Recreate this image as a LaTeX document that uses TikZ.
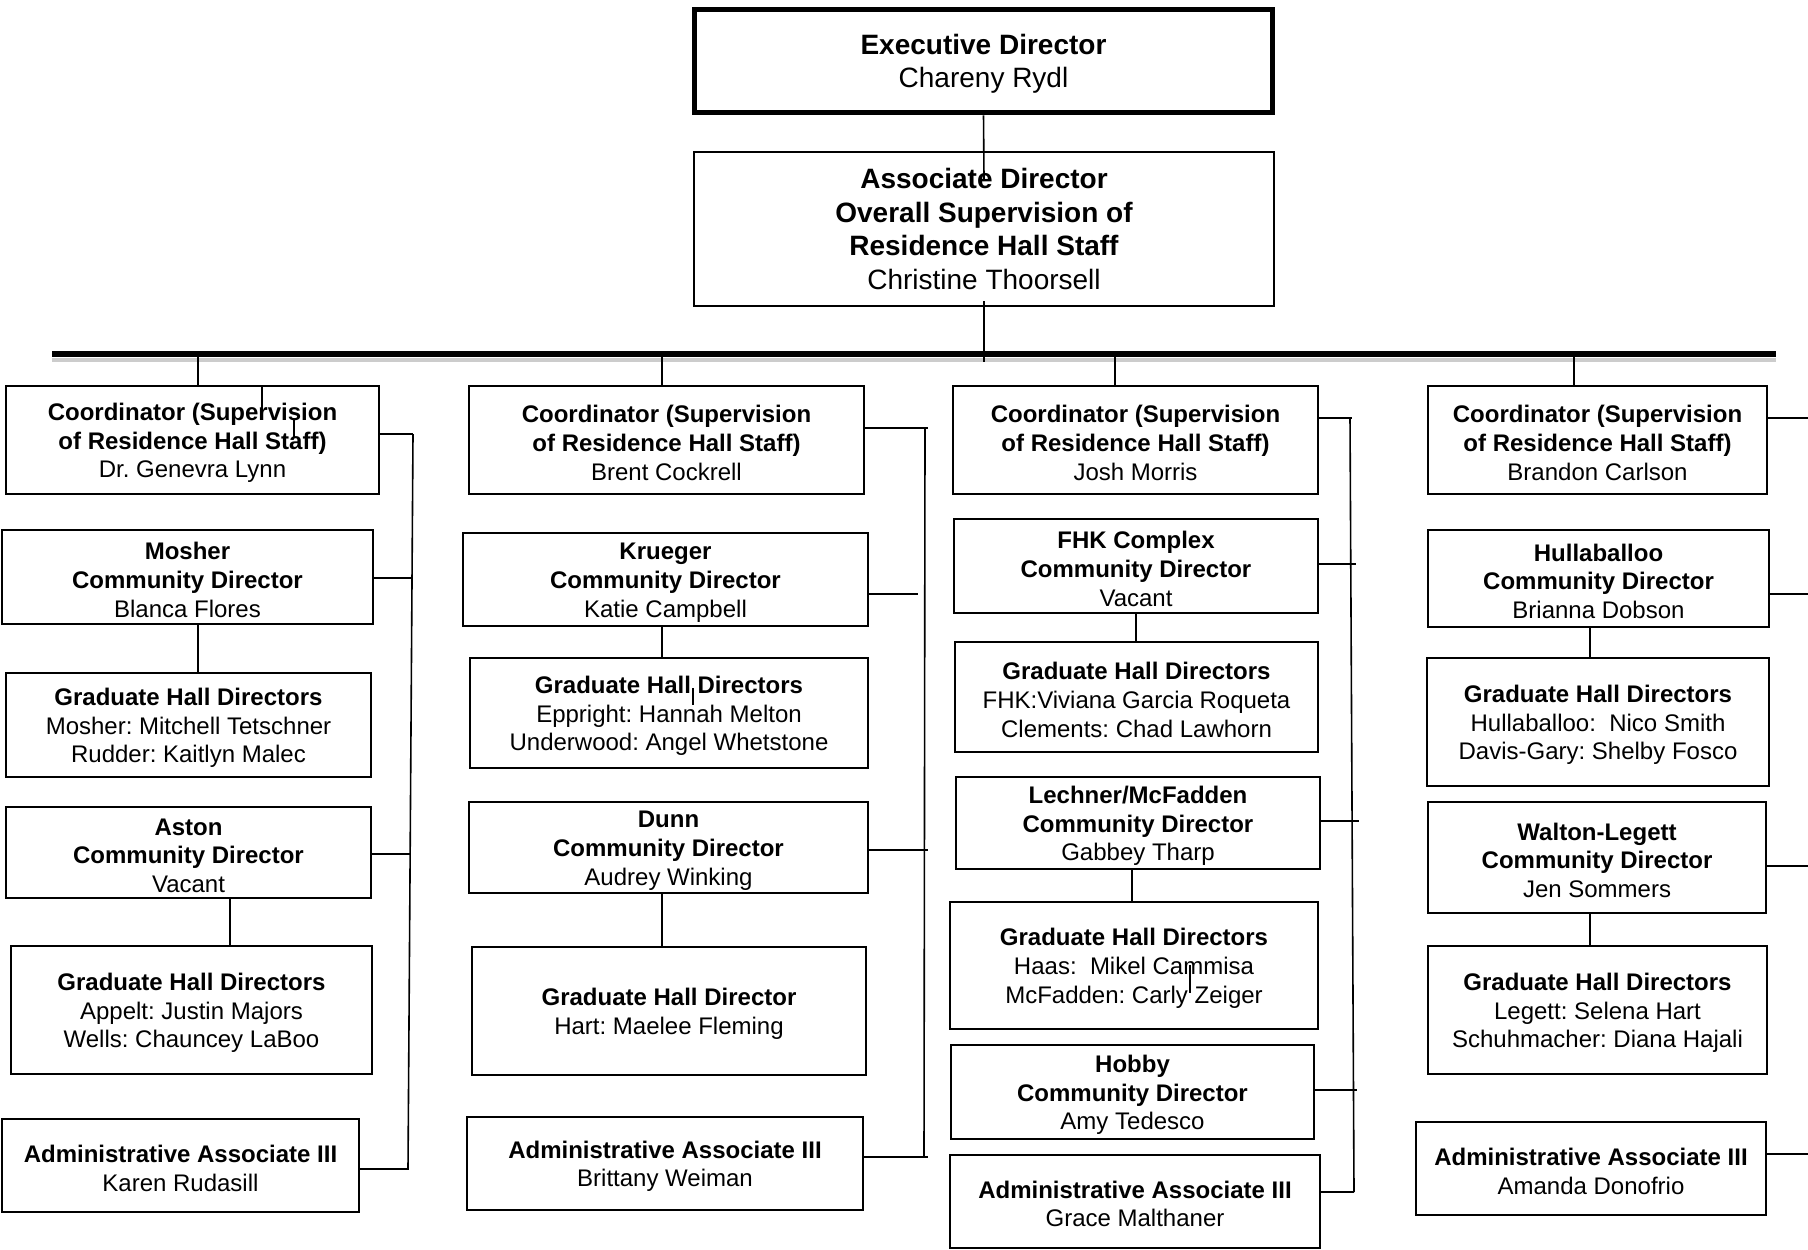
\documentclass[tikz,border=0pt]{standalone}
\usepackage{fontspec}
\setmainfont{Liberation Sans}
\usetikzlibrary{positioning}
\frenchspacing
\def\boxstrut{\rule{0pt}{11.5pt}}

\begin{document}
\begin{tikzpicture}[x=0.5pt,y=-0.5pt,
	every node/.style={draw,line width=1pt,align=center,inner sep=0pt,font=\fontsize{12}{14.4}\selectfont},
	sz/.style 2 args={minimum width=#1pt,minimum height=#2pt},
	top/.style={font=\fontsize{14}{16.8}\selectfont},
	link/.style={line width=0.8pt}]
\fill[white] (0,0) rectangle (1808,1249);
\useasboundingbox (0,0) rectangle (1808,1249);
\node[top,sz={289}{51.75},line width=2.5pt] (exec) at (983.5,61) {\rule{0pt}{13pt}\textbf{Executive Director}\\Chareny Rydl};
\node[top,sz={290}{77}] (assoc) at (984,229) {\textbf{Associate Director}\\\textbf{Overall Supervision of}\\\textbf{Residence Hall Staff}\\Christine Thoorsell};
\foreach \n/\x/\w/\who in {co1/192.5/186.5/Dr. Genevra Lynn,co2/666.5/197.5/Brent Cockrell,co3/1135.5/182.5/Josh Morris,co4/1597.5/169.5/Brandon Carlson}
	\node[sz={\w}{54}] (\n) at (\x,440) {\boxstrut\textbf{Coordinator (Supervision}\\\textbf{of Residence Hall Staff)}\\\who};
\foreach \n/\x/\y/\w/\h/\hall/\who in {mosher/187.5/577/185.5/47/Mosher/Blanca Flores,aston/188.5/852.5/182.5/45.5/Aston/Vacant,krueger/665.5/579.5/202.5/46.5/Krueger/Katie Campbell,dunn/668.5/847.5/199.5/45.5/Dunn/Audrey Winking,fhk/1136/566/182/47/FHK Complex/Vacant,lech/1138/823/182/46/Lechner\slash McFadden/Gabbey Tharp,hobby/1132.5/1092/181.5/47/Hobby/Amy Tedesco,hull/1598.5/578.5/170.5/48.5/Hullaballoo/Brianna Dobson,walt/1597/857.5/169/55.5/Walton-Legett/Jen Sommers}
	\node[sz={\w}{\h}] (\n) at (\x,\y) {\boxstrut\textbf{\hall}\\\textbf{Community Director}\\\who};
\foreach \n/\x/\y/\w/\h/\a/\b in {ghd1/188.5/725/182.5/52/Mosher: Mitchell Tetschner/Rudder: Kaitlyn Malec,ghd2/191.5/1010/180.5/64/Appelt: Justin Majors/Wells: Chauncey LaBoo,ghdk/669/713/199/55/Eppright: Hannah Melton/Underwood: Angel Whetstone,ghdf/1136.5/697/181.5/55/FHK:Viviana Garcia Roqueta/Clements: Chad Lawhorn,ghdl/1134/965.5/184/63.5/Haas:~~Mikel Cammisa/McFadden: Carly Zeiger,ghdh/1598/722/171/64/Hullaballoo:~~Nico Smith/Davis-Gary: Shelby Fosco,ghdw/1597.5/1010/169.5/64/Legett: Selena Hart/Schuhmacher: Diana Hajali}
	\node[sz={\w}{\h}] (\n) at (\x,\y) {\boxstrut\textbf{Graduate Hall Directors}\\\a\\\b};
\node[sz={197}{64}] (ghdd) at (669,1011) {\boxstrut\textbf{Graduate Hall Director}\\Hart: Maelee Fleming};
\foreach \n/\x/\y/\w/\who in {adm1/180.5/1165.5/178.5/Karen Rudasill,adm2/665/1163.5/198/Brittany Weiman,adm3/1135/1201/185/Grace Malthaner,adm4/1591/1168.5/175/Amanda Donofrio}
	\node[sz={\w}{46.5}] (\n) at (\x,\y) {\boxstrut\textbf{Administrative Associate III}\\\who};
\coordinate (busL) at (52,354);
\coordinate (busR) at (1776,354);
\draw[black!20,line width=2pt] (52,360)--(1776,360);
\draw[line width=2.8pt] (busL)--(busR);
\draw[link] (exec.south)--([yshift=-14pt]assoc.north);
\draw[link] ([yshift=3pt]assoc.south)--([yshift=-4pt]assoc.south|-busL);
\foreach \n/\x in {co1/198,co2/662,co3/1115,co4/1574}
	\draw[link] (busL-|\x,0)--(\n.north-|\x,0);
\foreach \n/\y/\e in {co1/434/413,mosher/578/412,aston/854/410,adm1/1169/409,co2/428/928,krueger/594/918,dunn/850/928,adm2/1157/928,co3/418/1352,fhk/564/1356,lech/821/1359,hobby/1090/1357,adm3/1192/1354,co4/418/1808,hull/594/1808,walt/866/1808,adm4/1154/1808}
	\draw[link] (\n.east|-0,\y)--(\e,\y);
\draw[link] (413,434)--(408,1169);
\draw[link] (925,428)--(924,1157);
\draw[link] (1350,418)--(1354,1192);
\foreach \a/\b/\x in {mosher/ghd1/198,aston/ghd2/230,krueger/ghdk/662,dunn/ghdd/662,fhk/ghdf/1136,lech/ghdl/1132,hull/ghdh/1590,walt/ghdw/1590}
	\draw[link] (\a.south-|\x,0)--(\b.north-|\x,0);
\draw[link] (262,386)--(262,410) (294,420)--(294,437) (693,688)--(693,705) (1190,965)--(1190,993);
\end{tikzpicture}
\end{document}
